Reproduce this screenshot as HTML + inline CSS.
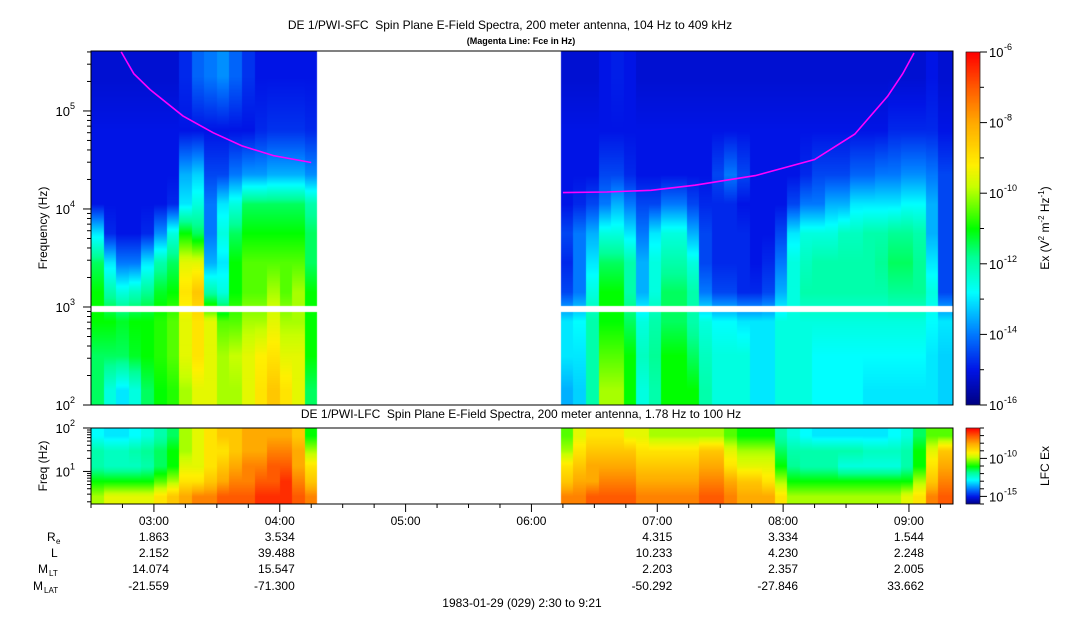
<!DOCTYPE html>
<html><head><meta charset="utf-8">
<style>
html,body{margin:0;padding:0;background:#fff;}
#wrap{position:relative;width:1083px;height:620px;overflow:hidden;font-family:"Liberation Sans",Arial,sans-serif;}
canvas{position:absolute;left:0;top:0;}
svg{position:absolute;left:0;top:0;}
svg text{white-space:pre;}
</style></head>
<body>
<div id="wrap">
<canvas id="cv" width="1083" height="620"></canvas>
<svg id="ov" width="1083" height="620"></svg>
</div>
<script>
// ---- data ----
const binStarts = [2.5,2.6,2.7,2.8,2.9,3.0,3.1,3.2,3.3,3.4,3.5,3.6,3.7,3.8,3.9,4.0,4.1,4.2,
 6.233,6.333,6.433,6.533,6.633,6.733,6.833,6.933,7.033,7.133,7.233,7.333,7.433,7.533,7.633,7.733,7.833,7.933,8.033,8.133,8.233,8.333,8.433,8.533,8.633,8.733,8.833,8.933,9.033,9.133,9.233];
const binEnds = [2.6,2.7,2.8,2.9,3.0,3.1,3.2,3.3,3.4,3.5,3.6,3.7,3.8,3.9,4.0,4.1,4.2,4.295,
 6.333,6.433,6.533,6.633,6.733,6.833,6.933,7.033,7.133,7.233,7.333,7.433,7.533,7.633,7.733,7.833,7.933,8.033,8.133,8.233,8.333,8.433,8.533,8.633,8.733,8.833,8.933,9.033,9.133,9.233,9.35];
const sfcBandLogF = [2.15,2.5,2.85,3.15,3.45,3.75,4.05,4.35,4.8,5.35];
const sfc150Hz = [4.5,3.5,3,3.5,4.5,5,5.2,6,6.5,6.5,6,6,6.5,7,7.5,7,6.5,4.5, 2.5,2.8,4,6,6,5,3.5,4,5,5,5,4,3.5,3.5,3.5,3,3,3.5,3.5,3.5,3.2,3.2,3.2,3.2,3,3,3,3,3,3,2.8];
const sfc300Hz = [4.5,4.5,4.5,4.8,5,5.2,5.5,6.5,7,6.5,6,6.2,6.5,6.8,7,6.5,6.5,5, 3,3,4,5.5,5.5,5,3.8,4.2,5,5,4.5,3.8,3.5,3.5,3.5,3,3,3.5,3.5,3.5,3.2,3.2,3.2,3.2,3.2,3.2,3.2,3.2,3.2,3,2.8];
const sfc700Hz = [5,5,4.8,5,5,5.2,5.5,6.5,7,6.5,5.5,5.5,6,6,6.5,6,6,5, 3,3.2,4,5,5,4.5,3.5,4,4.5,4.5,4,3.5,3.2,3.2,3,3,3,3.5,3.5,3.5,3.5,3.5,3.5,3.5,3.5,3.5,3.5,3.5,3.5,3.2,3];
const sfc1400Hz = [5,4,3.5,3.8,4.2,4.8,5,7,7.5,4,3.5,5,5.5,5.5,6,5.5,6,5, 1.5,2,3.5,5,5,4,2.5,3.5,4.5,4.5,4,2,1.5,1.5,1.2,1.2,1.5,2.5,3.5,4,4,4,4,4,4,4,4.2,4.2,4.2,3.5,1.5];
const sfc2800Hz = [4.5,3,2,2,3,4,4.5,6.5,6.5,2.5,3,5,5.5,5.5,5.5,5.5,5.5,4.5, 1.2,2,3,4.5,4.5,4,2.5,3.5,4,4,3.5,1.5,1.2,1.2,1.2,1,1.2,2,3.5,3.8,4,4,4,4,4,4.2,4.5,4.5,4.2,3,1.5];
const sfc5600Hz = [3,1.2,1,1,1.2,2.2,3.5,5,4.5,2,3.5,4.5,5,5,5,5,5,4.5, 1.5,2,2.5,3.5,3.5,3,2,3,3.5,3.5,2.5,1.5,1.2,1.2,1.2,1,1,1.5,3,3.5,3.5,3.5,3.8,3.8,4,4,4.2,4.2,4,2.5,1.5];
const sfc11kHz = [1,1,1,1,1,1,1.2,3,3.5,2,3,3.5,4.5,4.5,4.5,4.5,4.5,4, 1,1.2,1.5,2,2.5,2,1.5,1.5,2,2,1.5,1.2,1.2,1.2,1,1,1,1,1.5,2,2,2.5,2.5,3,3,3,3,3.2,3.2,2.5,1.5];
const sfc22kHz = [1,1,1,1,1,1,1,2.5,2.8,1.5,1.5,2,2.3,2.3,2.5,2.5,2.5,2.2, 1,1,1,1.5,1.5,1.2,1,1,1,1,1,1,1.5,2,1.5,1,1,1,1,1.2,1.5,1.5,1.5,1.8,1.8,2,2,2.2,2.2,2,1.5];
const sfc63kHz = [1,1,1,1,1,1,1,1,1,1,1,1,1,1.2,1.3,1.3,1.3,1.2, 1,1,1,1,1,1,1,1,1,1,1,1,1,1,1,1,1,1,1,1,1,1,1,1,1,1,1.2,1.2,1.2,1.2,1];
const sfc220kHz = [0.8,0.8,0.8,0.8,0.8,0.8,0.8,1.2,1.8,2,2.2,1.8,1.3,1,1,1,1,1, 0.8,0.8,0.8,1,1.1,1,0.8,0.8,0.8,0.8,0.8,0.8,0.8,0.8,0.8,0.8,0.8,0.8,0.8,0.8,0.8,0.8,0.8,0.8,0.8,0.8,0.8,0.8,0.8,1,0.8];
const lfcBandLogF = [0.42,0.77,1.12,1.47,1.82];
const lfc2Hz = [6,6.5,6.5,6.5,6.5,7,7.5,8,8.5,8.5,9,9,9,9.5,9.5,9.5,9,8.5, 8.5,8.5,9,9,9,9,8.5,8.5,8.5,8.5,8.5,9,9,8.5,8,8,8,7,6,6,6,6,6,6,6,6,6,6.5,7,8.5,9];
const lfc4Hz = [5,5,5,5,5,5.5,6,7,7,7.5,8,8.5,8.5,9,9,9.5,8.5,7.5, 7.5,8,8,8.5,8.5,8.5,8,8,8,8,8,8.5,8.5,8,7.5,7.5,7,6,5,5,5,5,5,5,5,5,5,5,6,7.5,8.5];
const lfc9Hz = [4,3.8,3.8,3.8,4,4.5,5,6.5,6.5,7,7.5,8,8.5,8.5,9,9,8,7, 7,7.5,8,8,8,8,7.5,7.5,7.5,7.5,7.5,8,8,7,6.5,6.5,6.5,5,4.2,4,4,4,3.5,3.5,3.5,3.5,3.5,4,5,7,8];
const lfc20Hz = [4,3.8,3.8,4,4.2,4.5,5,6,6.5,7,7,7.5,8,8,8.5,8.5,8,6, 6,7,7.5,7.5,7.5,7.5,7,7,7,7,7,7.5,7.5,6.5,6,6,6,4.5,4,4,4,4,4,4,3.8,3.8,3.8,4,5,6.5,7.5];
const lfc45Hz = [3.2,3,3,3.2,3.5,4,4.5,6,6.5,7,7.5,7.5,8,8,8,8,7.5,5, 5.5,6.5,7,7,7,6.5,6.5,6,6,6,6,6,6,5.5,5,5,5,4,3.5,3.2,3,3,3,3,3,3,3.2,3.5,4.5,5.5,5.5];
const fceTimesA = [2.74,2.84,2.97,3.23,3.47,3.70,3.95,4.25];
const fceHzA = [400000,240000,165000,89000,60000,44000,35000,29800];
const fceTimesB = [6.25,6.6,6.95,7.3,7.78,8.25,8.57,8.83,8.95,9.04];
const fceHzB = [14700,14900,15500,17500,21900,32000,58000,141000,240000,390000];
const hourTicks = [3,4,5,6,7,8,9];
const hourLabels = ["03:00","04:00","05:00","06:00","07:00","08:00","09:00"];
const reVals = ["1.863","3.534","","","4.315","3.334","1.544"];
const lVals = ["2.152","39.488","","","10.233","4.230","2.248"];
const mltVals = ["14.074","15.547","","","2.203","2.357","2.005"];
const mlatVals = ["-21.559","-71.300","","","-50.292","-27.846","33.662"];

const X0=91, X1=953, T0=2.5, T1=9.35;
const xs = t => X0 + (t-T0)/(T1-T0)*(X1-X0);
const TOP_Y0=51, TOP_Y1=405, LF0=2, LF1=Math.log10(409000);
const ys = lf => TOP_Y1 - (lf-LF0)/(LF1-LF0)*(TOP_Y1-TOP_Y0);
const B_Y0=428, B_Y1=504, BL0=Math.log10(1.78), BL1=2;
const yb = lf => B_Y1 - (lf-BL0)/(BL1-BL0)*(B_Y1-B_Y0);

const stops=[[0,0,0,128],[1,0,20,230],[2,0,120,255],[3.2,0,255,255],[4.2,0,255,150],[5,0,255,0],[6.2,200,255,0],[6.8,255,240,0],[8,255,170,0],[9,255,90,0],[10,255,0,0]];
function cmap(v){v=Math.max(0,Math.min(10,v));for(let i=1;i<stops.length;i++){if(v<=stops[i][0]){const a=stops[i-1],b=stops[i],f=(v-a[0])/(b[0]-a[0]);return [a[1]+f*(b[1]-a[1]),a[2]+f*(b[2]-a[2]),a[3]+f*(b[3]-a[3])];}}return [255,0,0];}

const cv=document.getElementById('cv'),ctx=cv.getContext('2d');
const img=ctx.createImageData(1083,620);const D=img.data;
for(let i=0;i<D.length;i+=4){D[i]=D[i+1]=D[i+2]=255;D[i+3]=255;}
function interp(bandsLF,rows,bi,lf){
  const n=bandsLF.length;
  if(lf<=bandsLF[0])return rows[0][bi];
  if(lf>=bandsLF[n-1])return rows[n-1][bi];
  for(let k=1;k<n;k++){if(lf<=bandsLF[k]){const f=(lf-bandsLF[k-1])/(bandsLF[k]-bandsLF[k-1]);return rows[k-1][bi]*(1-f)+rows[k][bi]*f;}}
}
const sfcRows=[sfc150Hz,sfc300Hz,sfc700Hz,sfc1400Hz,sfc2800Hz,sfc5600Hz,sfc11kHz,sfc22kHz,sfc63kHz,sfc220kHz];
const lfcRows=[lfc2Hz,lfc4Hz,lfc9Hz,lfc20Hz,lfc45Hz];
for(let bi=0;bi<binStarts.length;bi++){
  const xa=Math.round(xs(binStarts[bi])), xb=Math.round(xs(binEnds[bi]));
  for(let y=TOP_Y0;y<TOP_Y1;y++){
    const lf=LF0+(TOP_Y1-y-0.5)/(TOP_Y1-TOP_Y0)*(LF1-LF0);
    if(y>=306&&y<312)continue;
    const c=cmap(interp(sfcBandLogF,sfcRows,bi,lf));
    for(let x=xa;x<xb;x++){const p=(y*1083+x)*4;D[p]=c[0];D[p+1]=c[1];D[p+2]=c[2];}
  }
  for(let y=B_Y0;y<B_Y1;y++){
    const lf=BL0+(B_Y1-y-0.5)/(B_Y1-B_Y0)*(BL1-BL0);
    const c=cmap(interp(lfcBandLogF,lfcRows,bi,lf));
    for(let x=xa;x<xb;x++){const p=(y*1083+x)*4;D[p]=c[0];D[p+1]=c[1];D[p+2]=c[2];}
  }
}
for(let y=52;y<405;y++){const c=cmap((405-y)/(405-52)*10);for(let x=966;x<980;x++){const p=(y*1083+x)*4;D[p]=c[0];D[p+1]=c[1];D[p+2]=c[2];}}
for(let y=428;y<504;y++){const c=cmap((504-y)/(504-428)*10);for(let x=966;x<980;x++){const p=(y*1083+x)*4;D[p]=c[0];D[p+1]=c[1];D[p+2]=c[2];}}
ctx.putImageData(img,0,0);

const NS='http://www.w3.org/2000/svg';const svg=document.getElementById('ov');
function mk(tag,attrs,parent){const e=document.createElementNS(NS,tag);for(const k in attrs)e.setAttribute(k,attrs[k]);(parent||svg).appendChild(e);return e;}
function txt(x,y,s,opts){const e=mk('text',Object.assign({x:x,y:y,'font-size':12,fill:'#000','font-family':'Liberation Sans, Arial, sans-serif'},opts||{}));e.textContent=s;return e;}

function fcePath(ts,fs,name){
  let d='';for(let i=0;i<ts.length;i++){d+=(i?'L':'M')+xs(ts[i]).toFixed(1)+','+ys(Math.log10(fs[i])).toFixed(1);}
  const p=mk('path',{d:d,fill:'none',stroke:'#ff00ff','stroke-width':1.6});
  
  
}
fcePath(fceTimesA,fceHzA,'fce-line-early');
fcePath(fceTimesB,fceHzB,'fce-line-late');

const f1=mk('rect',{x:X0,y:TOP_Y0,width:X1-X0,height:TOP_Y1-TOP_Y0,fill:'none',stroke:'#000','stroke-width':1});

const f2=mk('rect',{x:X0,y:B_Y0,width:X1-X0,height:B_Y1-B_Y0,fill:'none',stroke:'#000','stroke-width':1});

const f3=mk('rect',{x:966,y:52,width:14,height:353,fill:'none',stroke:'#000','stroke-width':0.6});

const f4=mk('rect',{x:966,y:428,width:14,height:76,fill:'none',stroke:'#000','stroke-width':0.6});


for(let dec=2;dec<=5;dec++){
  for(let m=1;m<10;m++){const lf=dec+Math.log10(m);if(lf>LF1)break;const y=ys(lf);
    mk('line',{x1:X0-(m==1?8:4),x2:X0,y1:y,y2:y,stroke:'#000','stroke-width':1});}
  const y=ys(dec);
  const t=txt(70,y+5,'10',{'text-anchor':'end','font-size':13});
  txt(70,y-2,String(dec),{'font-size':9});
}
for(let dec=0;dec<=2;dec++){
  for(let m=1;m<10;m++){const lf=dec+Math.log10(m);if(lf<BL0||lf>BL1)continue;const y=yb(lf);
    mk('line',{x1:X0-(m==1?8:4),x2:X0,y1:y,y2:y,stroke:'#000','stroke-width':1});}
}
for(const dec of [1,2]){const y=yb(dec);txt(70,y+5,'10',{'text-anchor':'end','font-size':13});txt(70,y-2,String(dec),{'font-size':9});}

for(let e=-16;e<=-6;e++){const y=405-(e+16)/10*353;mk('line',{x1:980,x2:(e%2==0?987:984),y1:y,y2:y,stroke:'#000'});
  if(e%2==0){txt(989,y+5,'10',{'font-size':13});txt(1004,y-2,String(e),{'font-size':9});}}
for(let e=-16;e<=-6;e++){const y=504-(e+16)/10*76;mk('line',{x1:980,x2:(e%5==0?987:984),y1:y,y2:y,stroke:'#000'});
  if(e==-10||e==-15){txt(989,y+5,'10',{'font-size':13});txt(1004,y-2,String(e),{'font-size':9});}}

for(let t=2.5;t<=9.36;t+=0.25){const x=xs(t);const major=Math.abs(t-Math.round(t))<0.01;
  mk('line',{x1:x,x2:x,y1:B_Y1,y2:B_Y1+(major?8:4),stroke:'#000'});}
for(let i=0;i<hourTicks.length;i++){const x=xs(hourTicks[i])+15;
  const t=txt(x,525,hourLabels[i],{'text-anchor':'end'});
  txt(x,541,reVals[i],{'text-anchor':'end'});
  txt(x,557,lVals[i],{'text-anchor':'end'});
  txt(x,573,mltVals[i],{'text-anchor':'end'});
  txt(x,590,mlatVals[i],{'text-anchor':'end'});}
txt(47,541,'R',{});txt(56,544,'e',{'font-size':8});
txt(51,557,'L',{});
txt(38,573,'M',{});txt(49,576,'LT',{'font-size':8});
txt(33,590,'M',{});txt(44,593,'LAT',{'font-size':8});
const dt=txt(522,607,'1983-01-29 (029) 2:30 to 9:21',{'text-anchor':'middle'});

const t1=txt(510,29,'DE 1/PWI-SFC  Spin Plane E-Field Spectra, 200 meter antenna, 104 Hz to 409 kHz',{'text-anchor':'middle'});

const t2=txt(521,44,'(Magenta Line: Fce in Hz)',{'text-anchor':'middle','font-size':9,'font-weight':'bold'});

const t3=txt(521,418,'DE 1/PWI-LFC  Spin Plane E-Field Spectra, 200 meter antenna, 1.78 Hz to 100 Hz',{'text-anchor':'middle'});

const yl=txt(0,0,'Frequency (Hz)',{'text-anchor':'middle',transform:'translate(47,228) rotate(-90)'});

const yl2=txt(0,0,'Freq (Hz)',{'text-anchor':'middle',transform:'translate(47,466) rotate(-90)'});

const cl=mk('text',{transform:'translate(1049,228) rotate(-90)','text-anchor':'middle','font-size':12,'font-family':'Liberation Sans, Arial, sans-serif'});

cl.innerHTML='Ex (V<tspan dy="-5" font-size="8">2</tspan><tspan dy="5"> m</tspan><tspan dy="-5" font-size="8">-2</tspan><tspan dy="5"> Hz</tspan><tspan dy="-5" font-size="8">-1</tspan><tspan dy="5">)</tspan>';
const cl2=txt(0,0,'LFC Ex',{'text-anchor':'middle',transform:'translate(1049,466) rotate(-90)'});

</script>
</body></html>
